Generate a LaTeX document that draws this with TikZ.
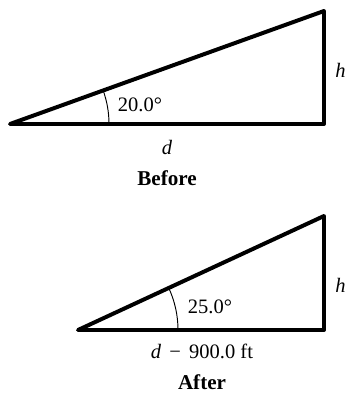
\documentclass[tikz,border=0pt]{standalone}
\usepackage{fontspec}
\setmainfont{Liberation Serif}
\usetikzlibrary{positioning}

\begin{document}
\begin{tikzpicture}[x=0.03cm, y=-0.03cm,
  tri/.style={line width=3.4pt, line join=round},
  angarc/.style={line width=0.8pt},
  lbl/.style={inner sep=0pt, font=\fontsize{17.5}{20}\selectfont},
  caption/.style={inner sep=0pt, font=\fontsize{18}{20}\selectfont\bfseries}
]
  \useasboundingbox (0,0) rectangle (345,393);

  % before
  \coordinate (A1) at (10,124);
  \coordinate (B1) at (324,124);
  \coordinate (C1) at (324,11);
  \draw[tri] (A1) -- (B1) -- (C1) -- cycle;
  \draw[angarc] (109,124) arc[start angle=0, end angle=-20, radius=99];
  \node[lbl] (ang1) at (140,105) {20.0°};
  \node[lbl] (h1) at (340.5,70) {\textit{h}};
  \node[lbl] (d1) at (167,147) {\textit{d}};
  \node[caption] (before) at (167,178) {Before};

  % after
  \coordinate (A2) at (78,330);
  \coordinate (B2) at (324,330);
  \coordinate (C2) at (324,216);
  \draw[tri] (A2) -- (B2) -- (C2) -- cycle;
  \draw[angarc] (178,330) arc[start angle=0, end angle=-25, radius=100];
  \node[lbl] (ang2) at (210,307) {25.0°};
  \node[lbl] (h2) at (340.5,285) {\textit{h}};
  \node[lbl] (d2) at (202,351) {\textit{d}\hspace{0.4em}−\hspace{0.4em}900.0 ft};
  \node[caption] (after) at (202,382) {After};
\end{tikzpicture}
\end{document}
